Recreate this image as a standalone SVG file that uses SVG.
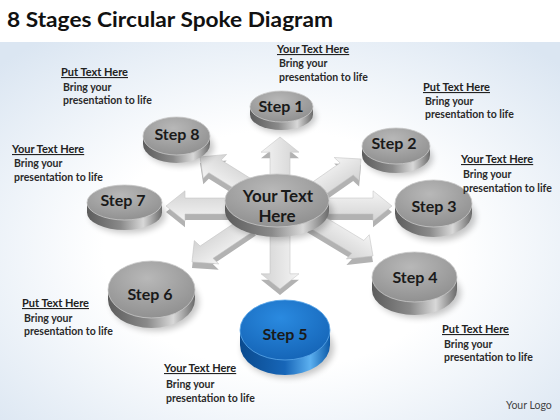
<svg xmlns="http://www.w3.org/2000/svg" xmlns:xlink="http://www.w3.org/1999/xlink" width="560" height="420" viewBox="0 0 560 420">
<style>
.title{font-family:Lato,"Liberation Sans",sans-serif;font-weight:bold;font-size:20px;fill:#111}
.lbl{font-family:Lato,"Liberation Sans",sans-serif;font-weight:bold;font-size:16px;fill:#1a1a1a;text-anchor:middle}
.ctr{font-family:Lato,"Liberation Sans",sans-serif;font-weight:bold;font-size:17px;fill:#1a1a1a;text-anchor:middle}
.hd{font-family:Lato,"Liberation Sans",sans-serif;font-weight:bold;font-size:11px;fill:#222;text-decoration:underline}
.bd{font-family:Lato,"Liberation Sans",sans-serif;font-weight:bold;font-size:10.5px;fill:#2a2a2a}
.logo{font-family:Lato,"Liberation Sans",sans-serif;font-size:10.5px;fill:#444}
.side{fill:url(#gSide)}
.top{fill:url(#gTop);stroke:#c9c9c9;stroke-width:0.8}
.bside{fill:url(#gBSide)}
.btop{fill:url(#gBTop);stroke:#5aa7ea;stroke-width:0.8}
.shd{fill:#000;opacity:0.22;filter:url(#blur)}
.aside{fill:#b2b2b2}
.atop{fill:url(#gArrow);stroke:#c4c4c4;stroke-width:0.6}
</style>
<defs>
<radialGradient id="gBg" cx="50%" cy="55%" r="70%">
<stop offset="0.45" stop-color="#ffffff"/>
<stop offset="1" stop-color="#dbe6f2"/>
</radialGradient>
<linearGradient id="gSide" x1="0" y1="0" x2="1" y2="0">
<stop offset="0" stop-color="#5c5c5c"/>
<stop offset="0.45" stop-color="#8a8a8a"/>
<stop offset="0.75" stop-color="#d8d8d8"/>
<stop offset="1" stop-color="#6a6a6a"/>
</linearGradient>
<radialGradient id="gTop" cx="45%" cy="30%" r="75%">
<stop offset="0" stop-color="#b8b8b8"/>
<stop offset="1" stop-color="#8e8e8e"/>
</radialGradient>
<linearGradient id="gBSide" x1="0" y1="0" x2="1" y2="0">
<stop offset="0" stop-color="#0a4a8e"/>
<stop offset="0.5" stop-color="#1766b8"/>
<stop offset="0.78" stop-color="#5cb0f0"/>
<stop offset="1" stop-color="#0d5aa8"/>
</linearGradient>
<radialGradient id="gBTop" cx="45%" cy="30%" r="75%">
<stop offset="0" stop-color="#2a8ae0"/>
<stop offset="1" stop-color="#1463b5"/>
</radialGradient>
<linearGradient id="gArrow" x1="0" y1="0" x2="0" y2="1">
<stop offset="0" stop-color="#f4f4f4"/>
<stop offset="1" stop-color="#d3d3d3"/>
</linearGradient>
<filter id="blur" x="-30%" y="-30%" width="160%" height="160%"><feGaussianBlur stdDeviation="3"/></filter>
<path id="arr" d="M0,0 L-19,-19 L-19,-10 L-75,-10 L-75,10 L-19,10 L-19,19 Z"/>
</defs>

<rect x="0" y="0" width="560" height="420" fill="#ffffff"/>
<rect x="0" y="42" width="560" height="378" fill="url(#gBg)"/>

<text class="title" x="7" y="27" textLength="326" lengthAdjust="spacingAndGlyphs">8 Stages Circular Spoke Diagram</text>

<g id="connectors">
<g id="arrow1"><g transform="translate(0,6)"><use xlink:href="#arr" class="aside" transform="translate(280,137) scale(1,0.8) rotate(-90)"/></g><use xlink:href="#arr" class="atop" transform="translate(280,137) scale(1,0.8) rotate(-90)"/></g>
<g id="arrow2"><g transform="translate(0,6)"><use xlink:href="#arr" class="aside" transform="translate(361,159) scale(1,0.8) rotate(-41)"/></g><use xlink:href="#arr" class="atop" transform="translate(361,159) scale(1,0.8) rotate(-41)"/></g>
<g id="arrow3"><g transform="translate(0,6)"><use xlink:href="#arr" class="aside" transform="translate(392,206) scale(1,0.8)"/></g><use xlink:href="#arr" class="atop" transform="translate(392,206) scale(1,0.8)"/></g>
<g id="arrow4"><g transform="translate(0,6)"><use xlink:href="#arr" class="aside" transform="translate(373,256) scale(1,0.8) rotate(37)"/></g><use xlink:href="#arr" class="atop" transform="translate(373,256) scale(1,0.8) rotate(37)"/></g>
<g id="arrow5"><g transform="translate(0,6)"><use xlink:href="#arr" class="aside" transform="translate(280,289) scale(1,0.8) rotate(90)"/></g><use xlink:href="#arr" class="atop" transform="translate(280,289) scale(1,0.8) rotate(90)"/></g>
<g id="arrow6"><g transform="translate(0,6)"><use xlink:href="#arr" class="aside" transform="translate(192,262) scale(1,0.8) rotate(140)"/></g><use xlink:href="#arr" class="atop" transform="translate(192,262) scale(1,0.8) rotate(140)"/></g>
<g id="arrow7"><g transform="translate(0,6)"><use xlink:href="#arr" class="aside" transform="translate(166,206) scale(1,0.8) rotate(180)"/></g><use xlink:href="#arr" class="atop" transform="translate(166,206) scale(1,0.8) rotate(180)"/></g>
<g id="arrow8"><g transform="translate(0,6)"><use xlink:href="#arr" class="aside" transform="translate(200,157) scale(1,0.8) rotate(-142)"/></g><use xlink:href="#arr" class="atop" transform="translate(200,157) scale(1,0.8) rotate(-142)"/></g>
</g>

<g id="center">
<ellipse class="shd" cx="280" cy="213" rx="53" ry="27"/>
<path class="side" d="M225,200.5 v10 a52,26.5 0 0 0 104,0 v-10 Z"/>
<ellipse class="top" cx="277" cy="200.5" rx="52" ry="26.5"/>
<text class="ctr" x="278" y="202">Your Text</text>
<text class="ctr" x="277" y="222">Here</text>
</g>

<g id="step1">
<ellipse class="shd" cx="284" cy="117" rx="32" ry="16"/>
<path class="side" d="M250,106.5 v8 a31.5,15.5 0 0 0 63,0 v-8 Z"/>
<ellipse class="top" cx="281.5" cy="106.5" rx="31.5" ry="15.5"/>
<text class="lbl" x="281" y="112">Step 1</text>
</g>

<g id="step2">
<ellipse class="shd" cx="399" cy="158" rx="34" ry="18"/>
<path class="side" d="M362,146 v9 a34,18 0 0 0 68,0 v-9 Z"/>
<ellipse class="top" cx="396" cy="146" rx="34" ry="18"/>
<text class="lbl" x="394" y="149">Step 2</text>
</g>

<g id="step3">
<ellipse class="shd" cx="437" cy="217" rx="39" ry="24"/>
<path class="side" d="M395,203.5 v10 a38.5,23.5 0 0 0 77,0 v-10 Z"/>
<ellipse class="top" cx="433.5" cy="203.5" rx="38.5" ry="23.5"/>
<text class="lbl" x="434" y="212">Step 3</text>
</g>

<g id="step4">
<ellipse class="shd" cx="418" cy="293" rx="43" ry="25"/>
<path class="side" d="M372,277 v13 a42.5,25 0 0 0 85,0 v-13 Z"/>
<ellipse class="top" cx="414.5" cy="277" rx="42.5" ry="25"/>
<text class="lbl" x="415" y="283">Step 4</text>
</g>

<g id="step5">
<ellipse class="shd" cx="288" cy="348" rx="46" ry="30"/>
<path class="bside" d="M240,330 v15 a45,30 0 0 0 90,0 v-15 Z"/>
<ellipse class="btop" cx="285" cy="330" rx="45" ry="30"/>
<text class="lbl" x="285" y="340">Step 5</text>
</g>

<g id="step6">
<ellipse class="shd" cx="155" cy="302" rx="44" ry="29"/>
<path class="side" d="M108,289.5 v10 a43.5,28.5 0 0 0 87,0 v-10 Z"/>
<ellipse class="top" cx="151.5" cy="289.5" rx="43.5" ry="28.5"/>
<text class="lbl" x="150" y="300">Step 6</text>
</g>

<g id="step7">
<ellipse class="shd" cx="128" cy="215" rx="38" ry="18"/>
<path class="side" d="M87,202.5 v10 a37.5,17.5 0 0 0 75,0 v-10 Z"/>
<ellipse class="top" cx="124.5" cy="202.5" rx="37.5" ry="17.5"/>
<text class="lbl" x="123" y="206">Step 7</text>
</g>

<g id="step8">
<ellipse class="shd" cx="180" cy="147" rx="34" ry="19"/>
<path class="side" d="M143,136 v8 a33.5,19 0 0 0 67,0 v-8 Z"/>
<ellipse class="top" cx="176.5" cy="136" rx="33.5" ry="19"/>
<text class="lbl" x="177" y="140">Step 8</text>
</g>

<g id="note1">
<text class="hd" x="277" y="53">Your  Text Here</text>
<text class="bd" x="279" y="67">Bring your</text>
<text class="bd" x="279" y="81">presentation to life</text>
</g>
<g id="note2">
<text class="hd" x="423" y="91">Put Text Here</text>
<text class="bd" x="425" y="105">Bring your</text>
<text class="bd" x="425" y="118">presentation to life</text>
</g>
<g id="note3">
<text class="hd" x="461" y="163">Your  Text Here</text>
<text class="bd" x="463" y="178">Bring your</text>
<text class="bd" x="463" y="192">presentation to life</text>
</g>
<g id="note4">
<text class="hd" x="442" y="333">Put Text Here</text>
<text class="bd" x="444" y="348">Bring your</text>
<text class="bd" x="444" y="361">presentation to life</text>
</g>
<g id="note5">
<text class="hd" x="164" y="372">Your  Text Here</text>
<text class="bd" x="166" y="388">Bring your</text>
<text class="bd" x="166" y="402">presentation to life</text>
</g>
<g id="note6">
<text class="hd" x="22" y="307">Put Text Here</text>
<text class="bd" x="24" y="322">Bring your</text>
<text class="bd" x="24" y="335">presentation to life</text>
</g>
<g id="note7">
<text class="hd" x="12" y="153">Your  Text Here</text>
<text class="bd" x="14" y="167">Bring your</text>
<text class="bd" x="14" y="181">presentation to life</text>
</g>
<g id="note8">
<text class="hd" x="61" y="76">Put Text Here</text>
<text class="bd" x="63" y="91">Bring your</text>
<text class="bd" x="63" y="104">presentation to life</text>
</g>

<text class="logo" x="506" y="409">Your Logo</text>
</svg>
